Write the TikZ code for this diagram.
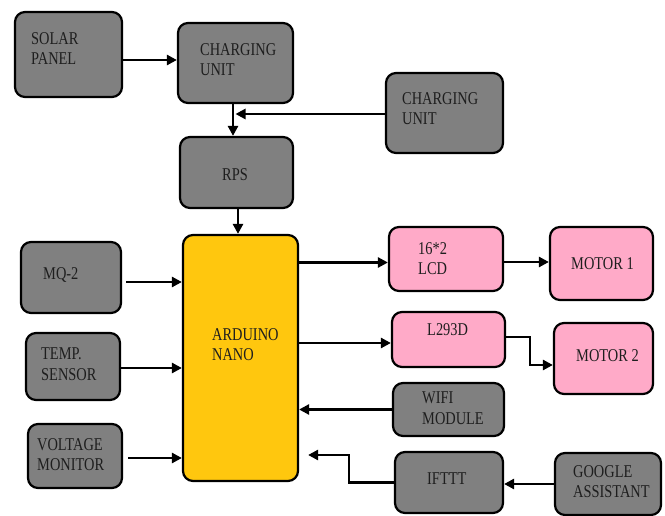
\documentclass[tikz,border=0pt]{standalone}
\usepackage{fontspec}
\setmainfont{Liberation Serif}[FakeStretch=0.8]
\usepackage{tikz}
\usetikzlibrary{shapes,arrows,arrows.meta,positioning,calc}
\usepackage{xcolor}
\definecolor{blockgrey}{RGB}{128,128,128}
\definecolor{blockyellow}{RGB}{255,199,14}
\definecolor{blockpink}{RGB}{255,170,200}
\definecolor{labeltext}{RGB}{30,30,30}
\tikzset{
    blockG/.style={rectangle, rounded corners=10pt, draw=black, fill=blockgrey, line width=2.2pt},
    blockY/.style={rectangle, rounded corners=10pt, draw=black, fill=blockyellow, line width=2.2pt},
    blockP/.style={rectangle, rounded corners=10pt, draw=black, fill=blockpink, line width=2.2pt},
    txt/.style={anchor=north west, inner sep=0pt, align=left, text=labeltext, font=\fontsize{18}{20.5}\selectfont},
    wire/.style={line width=2.6pt, black, -{Triangle[length=10pt,width=10pt]}},
}

\begin{document}
\begin{tikzpicture}[x=1pt, y=-1pt]
    \useasboundingbox (0,0) rectangle (665,516);
    \foreach \n/\x/\y/\w/\h in {solar/68.5/54.5/107/85, chgA/235.5/63/115/80, chgB/444.5/113/117/80,
        rps/236.5/172.5/113/71, mq/71/277.5/100/71, temp/73/366.5/94/67, volt/75/456/94/64,
        wifi/448.5/409.5/111/53, ifttt/449/482.5/108/61, google/608/484/106/62} {
        \node[blockG, minimum width=\w pt, minimum height=\h pt] (\n) at (\x, \y) {};
    }
    \node[blockY, minimum width=115pt, minimum height=246pt] (ard) at (240.5, 358) {};
    \foreach \n/\x/\y/\w/\h in {lcd/446/259/114/64, motA/601.5/263.5/103/73,
        drv/448.5/339.5/113/55, motB/603.5/358.5/99/71} {
        \node[blockP, minimum width=\w pt, minimum height=\h pt] (\n) at (\x, \y) {};
    }
    \foreach \n/\x/\y/\t in {solar/31/32/{SOLAR\\PANEL}, chgA/200/43/{CHARGING\\UNIT},
        chgB/402/92/{CHARGING\\UNIT}, rps/222/168/{RPS}, mq/43/267/{MQ-2},
        temp/41/348/{TEMP.\\SENSOR}, volt/37/438/{VOLTAGE\\MONITOR}, ard/212/328/{ARDUINO\\NANO},
        lcd/418/242/{16*2\\LCD}, motA/571/257/{MOTOR 1}, drv/427/323/{L293D},
        motB/576/349/{MOTOR 2}, wifi/422/392/{WIFI\\MODULE}, ifttt/427/473/{IFTTT},
        google/573/465/{GOOGLE\\ASSISTANT}} {
        \node[txt] (\n-t) at (\x, \y) {\t};
    }
    \draw[wire] ($(solar.east)+(0,5.5)$) coordinate (p) -- (p -| chgA.west);
    \draw[wire] ($(chgA.south)+(-2.5,0)$) coordinate (p) -- (p |- rps.north);
    \draw[wire] ($(chgB.west)+(0,1)$) coordinate (p) -- (p -| chgA.south);
    \draw[wire] ($(rps.south)+(1.5,0)$) coordinate (p) -- (p |- ard.north);
    \draw[wire, shorten <=4pt] ($(mq.east)+(0,4.5)$) coordinate (p) -- (p -| ard.west);
    \draw[wire] ($(temp.east)+(0,1.5)$) coordinate (p) -- (p -| ard.west);
    \draw[wire, shorten <=5pt] ($(volt.east)+(0,2)$) coordinate (p) -- (p -| ard.west);
    \path ($(lcd.west)+(0,3.5)$) coordinate (p);
    \draw[wire] (p -| ard.east) -- (p);
    \draw[wire] ($(lcd.east)+(0,3)$) coordinate (p) -- (p -| motA.west);
    \path ($(drv.west)+(0,3.5)$) coordinate (p);
    \draw[wire] (p -| ard.east) -- (p);
    \draw[wire] ($(drv.east)+(0,-2.5)$) -- ++(24,0) |- ($(motB.west)+(0,6.5)$);
    \draw[wire] (wifi.west) -- (wifi.west -| ard.east);
    \draw[wire, shorten >=9pt] (ifttt.west) -- ++(-45,0) |- ($(ard.east)+(0,97)$);
    \draw[wire] (google.west) -- (google.west -| ifttt.east);
\end{tikzpicture}
\end{document}
